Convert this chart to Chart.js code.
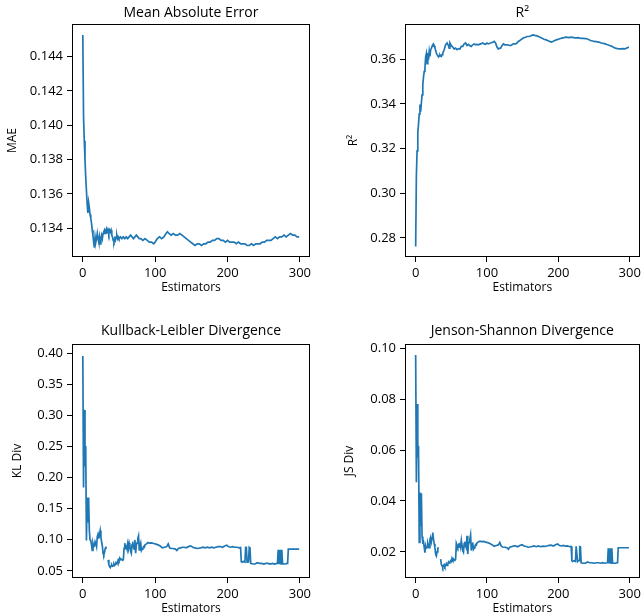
<!DOCTYPE html>
<html>
<head>
<meta charset="utf-8">
<script src="https://cdn.jsdelivr.net/npm/chart.js@4.4.0/dist/chart.umd.min.js"></script>
<style>
  html, body { margin: 0; padding: 0; background: #fff; }
  #figure { position: relative; width: 644px; height: 616px; overflow: hidden; }
  .panel { position: absolute; }
</style>
</head>
<body>
<div id="figure">
  <div class="panel" style="left:0;top:0;width:322px;height:296px"><canvas id="maeChart"></canvas></div>
  <div class="panel" style="left:322px;top:0;width:322px;height:296px"><canvas id="r2Chart"></canvas></div>
  <div class="panel" style="left:0;top:320px;width:322px;height:296px"><canvas id="klChart"></canvas></div>
  <div class="panel" style="left:322px;top:320px;width:322px;height:296px"><canvas id="jsChart"></canvas></div>
</div>
<script>
// ---- Data ----
const estimatorTicks = [0, 100, 200, 300];

const maeTicks = [0.134, 0.136, 0.138, 0.140, 0.142, 0.144];
const maeX = [0,1,2,3,4,5,6,7,8,9,10,11,12,13,14,15,16,17,18,19,20,21,22,23,24,25,26,27,28,29,
  30,31,32,33,34,35,36,37,38,39,40,41,42,43,44,45,46,47,48,49,50,52,54,56,58,60,62,64,66,68,
  70,72,74,76,78,80,83,86,89,92,95,98,100,103,106,109,112,115,117,119,122,125,128,131,134,137,
  140,143,146,149,152,155,158,161,164,167,170,173,176,179,182,185,188,191,194,197,200,203,206,
  209,212,215,218,221,224,227,230,233,236,239,242,245,248,251,254,257,260,263,266,269,272,275,
  278,281,284,287,290,293,296,299];
const maeY = [0.14526,0.1405,0.1391,0.1380,0.1370,0.1362,0.1354,0.1349,0.1355,0.1352,0.1348,
  0.1346,0.1343,0.1339,0.1336,0.1332,0.13287,0.1335,0.1332,0.1334,0.1337,0.1334,0.1332,0.1335,
  0.1331,0.1334,0.1336,0.1334,0.1337,0.1338,0.1339,0.1337,0.1339,0.1340,0.1338,0.1339,0.1337,
  0.1339,0.1338,0.1339,0.1336,0.1335,0.1333,0.1332,0.1334,0.1333,0.1335,0.1336,0.1334,0.1335,
  0.1334,0.1335,0.1334,0.1335,0.1334,0.1335,0.1334,0.1335,0.1336,0.1335,0.1334,0.1335,0.1336,
  0.1335,0.1334,0.1334,0.1333,0.1334,0.1333,0.1332,0.1332,0.1331,0.1332,0.1334,0.1335,0.1334,
  0.1335,0.1337,0.1338,0.1337,0.1336,0.1337,0.1336,0.1336,0.1337,0.1336,0.1335,0.1334,0.1333,
  0.1332,0.1331,0.1330,0.1331,0.1331,0.1330,0.1331,0.1331,0.1332,0.1332,0.1333,0.1333,0.1334,
  0.1334,0.1333,0.1333,0.1332,0.1333,0.1332,0.1332,0.1332,0.1331,0.1332,0.1331,0.1331,0.1331,
  0.1330,0.1330,0.1331,0.1330,0.1331,0.1331,0.1331,0.1332,0.1332,0.1333,0.1333,0.1333,0.1334,
  0.1335,0.1334,0.1335,0.1335,0.1336,0.1335,0.1336,0.1337,0.1336,0.1336,0.1335,0.1335];

const r2Ticks = [0.28, 0.30, 0.32, 0.34, 0.36];
const r2X = [0,1,2,3,4,5,6,7,8,9,10,11,12,13,14,15,16,17,18,19,20,21,22,23,24,25,26,27,28,29,
  30,31,32,33,34,35,36,37,38,40,42,44,46,47,48,50,52,54,56,58,60,62,64,66,68,70,72,74,76,78,
  80,82,84,86,88,90,92,94,96,98,100,102,104,106,108,110,112,114,116,117,119,121,123,125,128,
  130,133,135,137,140,142,144,146,148,150,152,154,156,158,160,163,165,167,170,173,175,178,180,
  183,185,188,190,193,195,198,200,203,205,208,210,213,215,218,220,223,225,228,230,233,235,238,
  240,243,245,248,250,253,255,258,260,263,265,268,270,273,275,278,280,283,285,288,290,293,295,
  297,299];
const r2Y = [0.2762,0.3080,0.3190,0.3270,0.3310,0.3355,0.3397,0.3365,0.3405,0.3440,0.3485,
  0.3520,0.3545,0.3560,0.3610,0.3625,0.3580,0.3627,0.3597,0.3634,0.3612,0.3642,0.3648,0.3658,
  0.3664,0.3668,0.3660,0.3650,0.3638,0.3627,0.3620,0.3615,0.3610,0.3613,0.3619,0.3614,0.3612,
  0.3620,0.3627,0.3642,0.3665,0.3672,0.3660,0.3649,0.3672,0.3660,0.3654,0.3645,0.3649,0.3642,
  0.3647,0.3645,0.3657,0.3657,0.3668,0.3672,0.3661,0.3666,0.3660,0.3657,0.3664,0.3668,0.3664,
  0.3666,0.3664,0.3667,0.3669,0.3672,0.3668,0.3666,0.3672,0.3668,0.3671,0.3673,0.3675,0.3679,
  0.3672,0.3654,0.3645,0.3648,0.3649,0.3660,0.3668,0.3664,0.3664,0.3663,0.3660,0.3664,0.3668,
  0.3668,0.3672,0.3679,0.3683,0.3688,0.3692,0.3696,0.3698,0.3701,0.3701,0.3702,0.3706,0.3708,
  0.3706,0.3704,0.3700,0.3697,0.3692,0.3689,0.3686,0.3683,0.3679,0.3676,0.3680,0.3683,0.3687,
  0.3689,0.3692,0.3694,0.3696,0.3698,0.3697,0.3696,0.3698,0.3697,0.3695,0.3695,0.3696,0.3694,
  0.3693,0.3693,0.3692,0.3691,0.3687,0.3683,0.3681,0.3679,0.3678,0.3677,0.3675,0.3672,0.3670,
  0.3669,0.3665,0.3663,0.3660,0.3657,0.3652,0.3649,0.3647,0.3646,0.3646,0.3647,0.3646,0.3648,
  0.3651,0.3654];

const klTicks = [0.05, 0.10, 0.15, 0.20, 0.25, 0.30, 0.35, 0.40];
const divX = [0,1,2,3,4,5,6,7,8,9,10,11,12,13,14,15,16,17,18,19,20,21,22,23,24,25,26,27,28,29,
  30,31,32,33,34,35,36,37,38,39,40,41,42,43,44,45,46,47,48,49,50,51,52,53,54,55,56,57,58,59,
  60,61,62,63,64,65,66,67,68,69,70,71,72,73,74,75,76,77,78,79,80,81,82,83,84,85,86,88,90,92,
  95,98,101,104,107,110,113,116,118,120,122,125,128,130,132,135,138,140,143,146,149,152,155,
  158,160,163,166,169,172,175,178,181,184,187,190,193,196,199,201,204,207,210,213,216,218,219,
  220,222,224,225,226,227,228,229,230,231,232,235,238,241,244,247,250,253,256,259,262,265,268,
  269,270,271,272,273,274,275,276,278,280,282,283,284,290,299];
const klY = [0.3957,0.184,0.309,0.218,0.251,0.099,0.168,0.128,0.168,0.115,0.100,0.098,0.092,
  0.083,0.094,0.089,0.090,0.097,0.094,0.089,0.105,0.109,0.102,0.108,0.115,0.105,0.096,0.090,
  0.078,0.0757,0.0800,0.0864,0.0890,null,null,0.0677,0.0600,0.0570,0.0553,0.0580,0.0597,0.0575,
  0.0580,0.0613,0.0590,0.0600,0.0634,0.0620,0.0630,0.0677,0.0660,0.0704,0.0680,0.0690,0.0680,
  0.0670,0.0677,0.0864,0.0945,0.0870,0.0890,0.0850,0.0934,0.0860,0.0950,0.0900,0.0820,0.0784,
  0.0920,0.0970,0.0880,0.0850,0.0998,0.0784,0.0920,0.0950,0.1020,0.1063,0.0838,0.0910,0.0950,
  0.0827,0.0850,0.0860,0.0890,0.0880,0.0920,0.0934,0.0955,0.0945,0.0950,0.0940,0.0930,0.0918,
  0.0900,0.0870,0.0880,0.0890,0.0934,0.0870,0.0860,0.0860,0.0850,0.0827,0.0860,0.0870,0.0880,
  0.0880,0.0870,0.0890,0.0902,0.0880,0.0870,0.0860,0.0864,0.0870,0.0880,0.0870,0.0880,0.0870,
  0.0880,0.0870,0.0880,0.0890,0.0891,0.0880,0.0900,0.0913,0.0890,0.0880,0.0890,0.0880,0.0880,
  0.0870,0.0875,0.0650,0.0640,0.0650,0.0640,0.0880,0.0880,0.0640,0.0650,0.0650,0.0880,0.0870,
  0.0620,0.0610,0.0610,0.0630,0.0620,0.0620,0.0610,0.0620,0.0620,0.0610,0.0620,0.0610,0.0620,
  0.0620,0.0840,0.0620,0.0620,0.0840,0.0610,0.0840,0.0620,0.0610,0.0610,0.0620,0.0620,0.0850,
  0.0850,0.0850];

const jsTicks = [0.02, 0.04, 0.06, 0.08, 0.10];
const jsY = [0.0974,0.0473,0.0781,0.0571,0.0617,0.0237,0.0433,0.0302,0.0430,0.0260,0.0237,
  0.0240,0.0217,0.0197,0.0225,0.0215,0.0217,0.0235,0.0225,0.0216,0.0250,0.0258,0.0240,0.0255,
  0.0276,0.0250,0.0232,0.0217,0.0191,0.0184,0.0200,0.0213,0.0218,null,null,0.0171,0.0150,
  0.0145,0.0138,0.0146,0.0150,0.0142,0.0146,0.0153,0.0147,0.0150,0.0160,0.0156,0.0158,0.0165,
  0.0162,0.0175,0.0168,0.0172,0.0166,0.0168,0.0171,0.0234,0.0226,0.0218,0.0226,0.0218,0.0236,
  0.0220,0.0245,0.0225,0.0204,0.0198,0.0232,0.0240,0.0222,0.0215,0.0263,0.0191,0.0230,0.0237,
  0.0250,0.0266,0.0205,0.0228,0.0237,0.0210,0.0215,0.0220,0.0228,0.0226,0.0235,0.0239,0.0242,
  0.0240,0.0241,0.0238,0.0236,0.0233,0.0228,0.0222,0.0225,0.0227,0.0237,0.0222,0.0219,0.0218,
  0.0216,0.0210,0.0218,0.0221,0.0223,0.0223,0.0220,0.0225,0.0228,0.0223,0.0221,0.0218,0.0219,
  0.0221,0.0223,0.0220,0.0223,0.0220,0.0222,0.0221,0.0223,0.0225,0.0226,0.0223,0.0228,0.0231,
  0.0226,0.0223,0.0225,0.0222,0.0223,0.0220,0.0221,0.0165,0.0162,0.0165,0.0162,0.0222,0.0222,
  0.0162,0.0165,0.0165,0.0220,0.0219,0.0157,0.0155,0.0155,0.0160,0.0157,0.0157,0.0155,0.0157,
  0.0157,0.0155,0.0157,0.0155,0.0157,0.0157,0.0214,0.0157,0.0157,0.0214,0.0155,0.0214,0.0157,
  0.0155,0.0155,0.0157,0.0157,0.0216,0.0216,0.0216];

// ---- Shared look ----
Chart.defaults.font.family = "'Open Sans', 'Noto Sans', sans-serif";
Chart.defaults.color = "#000";
Chart.defaults.animation = false;

const LINE_COLOR = "#1f77b4";

// draws the matplotlib-style box around the plot area
const framePlugin = {
  id: "frame",
  afterDraw(chart) {
    const { ctx, chartArea: a } = chart;
    ctx.save();
    ctx.strokeStyle = "#000";
    ctx.lineWidth = 1;
    const l = Math.round(a.left) + 0.5, t = Math.round(a.top) + 0.5;
    const r = Math.round(a.right) - 0.5, b = Math.round(a.bottom) - 0.5;
    ctx.strokeRect(l, t, r - l, b - t);
    ctx.restore();
  },
};

function toPoints(xs, ys) {
  return xs.map((x, i) => ({ x: x, y: ys[i] }));
}

function makePanel(canvasId, p) {
  const ctx = document.getElementById(canvasId);
  return new Chart(ctx, {
    type: "line",
    data: {
      datasets: [{
        data: toPoints(p.xs, p.ys),
        borderColor: LINE_COLOR,
        borderWidth: 1.7,
        pointRadius: 0,
        tension: 0,
        spanGaps: false,
      }],
    },
    options: {
      responsive: true,
      maintainAspectRatio: false,
      layout: { padding: { left: 0, right: p.padRight, top: 0, bottom: 0 } },
      plugins: {
        legend: { display: false },
        tooltip: { enabled: false },
        title: {
          display: true,
          text: p.title,
          fullSize: false,
          font: { size: 14, weight: "normal" },
          padding: { top: p.titleTop, bottom: 24 - 16.8 - p.titleTop },
        },
      },
      scales: {
        x: {
          type: "linear",
          min: -14.95,
          max: 313.95,
          border: { display: false },
          grid: { drawOnChartArea: false, drawTicks: true, tickLength: 5, color: "#000" },
          ticks: { font: { size: 13 }, padding: 3, maxRotation: 0 },
          afterBuildTicks: (s) => { s.ticks = estimatorTicks.map((v) => ({ value: v })); },
          afterFit: (s) => { s.height = p.xAxisHeight; },
          title: { display: true, text: "Estimators", font: { size: 12 }, padding: { top: 0, bottom: p.xTitleBottom } },
        },
        y: {
          min: p.yMin,
          max: p.yMax,
          border: { display: false },
          grid: { drawOnChartArea: false, drawTicks: true, tickLength: 5, color: "#000" },
          ticks: {
            font: { size: 13 },
            padding: 4,
            callback: (v) => v.toFixed(p.decimals),
          },
          afterBuildTicks: (s) => { s.ticks = p.yTicks.map((v) => ({ value: v })); },
          afterFit: (s) => { s.width = p.yAxisWidth; },
          title: { display: true, text: p.yLabel, font: { size: 12 }, padding: { top: p.yTitleTop, bottom: 0 } },
        },
      },
    },
    plugins: [framePlugin],
  });
}

// ---- Panels ----
makePanel("maeChart", {
  xs: maeX, ys: maeY, title: "Mean Absolute Error", yLabel: "MAE",
  yTicks: maeTicks, decimals: 3, yMin: 0.13233, yMax: 0.1459,
  yAxisWidth: 72, padRight: 12, titleTop: 5, xAxisHeight: 39, xTitleBottom: 1, yTitleTop: 5.3,
});
makePanel("r2Chart", {
  xs: r2X, ys: r2Y, title: "R²", yLabel: "R²",
  yTicks: r2Ticks, decimals: 2, yMin: 0.2715, yMax: 0.3757,
  yAxisWidth: 83, padRight: 1, titleTop: 5, xAxisHeight: 39, xTitleBottom: 1, yTitleTop: 24.5,
});
makePanel("klChart", {
  xs: divX, ys: klY, title: "Kullback-Leibler Divergence", yLabel: "KL Div",
  yTicks: klTicks, decimals: 2, yMin: 0.0385, yMax: 0.415,
  yAxisWidth: 72, padRight: 12, titleTop: 2.3, xAxisHeight: 38, xTitleBottom: 0, yTitleTop: 10.8,
});
makePanel("jsChart", {
  xs: divX, ys: jsY, title: "Jenson-Shannon Divergence", yLabel: "JS Div",
  yTicks: jsTicks, decimals: 2, yMin: 0.0097, yMax: 0.1017,
  yAxisWidth: 83, padRight: 1, titleTop: 2.3, xAxisHeight: 38, xTitleBottom: 0, yTitleTop: 20.8,
});
</script>
</body>
</html>
